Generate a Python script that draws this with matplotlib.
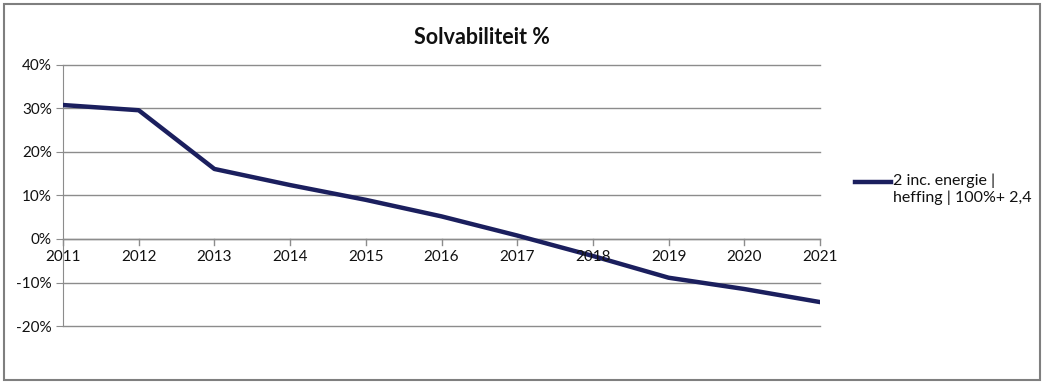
import matplotlib
matplotlib.use("Agg")
import matplotlib.pyplot as plt
from matplotlib.lines import Line2D
from matplotlib.patches import Rectangle
from matplotlib.ticker import FuncFormatter

years = [2011, 2012, 2013, 2014, 2015, 2016, 2017, 2018, 2019, 2020, 2021]
solvency = [30.8, 29.6, 16.1, 12.4, 9.0, 5.2, 0.8, -3.9, -8.9, -11.5, -14.5]
series_label = "2 inc. energie |\nheffing | 100%+ 2,4"
title = "Solvabiliteit %"

plt.rcParams["font.family"] = ["Lato", "DejaVu Sans"]

fig = plt.figure(figsize=(10.46, 3.85), dpi=100)
ax = fig.add_axes([63 / 1046, 1 - 326 / 385, (820 - 63) / 1046, (326 - 65) / 385])

line_color = "#1b1f5e"
grid_color = "#8c8c8c"
text_color = "#111111"

ax.plot(years, solvency, color=line_color, lw=3.2, solid_joinstyle="round", zorder=3)

ax.set_xlim(years[0], years[-1])
ax.set_ylim(-20, 40)
ax.set_yticks(range(-20, 41, 10))
ax.yaxis.set_major_formatter(FuncFormatter(lambda v, _: f"{int(v)}%"))
ax.grid(axis="y", color=grid_color, lw=1)
for gl in ax.get_ygridlines():
    gl.set_clip_on(False)
ax.set_axisbelow(True)

for side in ["top", "right", "bottom"]:
    ax.spines[side].set_visible(False)
ax.spines["left"].set_color(grid_color)

# x axis sits on the 0% line, labels just below it
ax.axhline(0, color=grid_color, lw=1, zorder=2)
ax.set_xticks(years)
ax.set_xticklabels([])
ax.tick_params(axis="x", length=0)
for yr in years:
    ax.plot([yr, yr], [0, -1.4], color=grid_color, lw=1, zorder=2, clip_on=False)
    ax.text(yr, -2.6, str(yr), ha="center", va="top", fontsize=11, color=text_color)

ax.tick_params(axis="y", length=5, color=grid_color, labelsize=11, labelcolor=text_color, pad=3)

fig.text(482 / 1046, 1 - 38 / 385, title, ha="center", va="center",
         fontsize=15.5, fontweight="bold", color=text_color)

# legend
fig.add_artist(Line2D([855 / 1046, 891 / 1046], [1 - 182 / 385, 1 - 182 / 385],
                      color=line_color, lw=3.2))
fig.text(893 / 1046, 1 - 173 / 385, series_label, ha="left", va="top",
         fontsize=11.5, color=text_color, linespacing=1.3)

# chart area border
fig.add_artist(Rectangle((4 / 1046, 1 - 380 / 385), (1040 - 4) / 1046, (380 - 4) / 385,
                         transform=fig.transFigure, fill=False, ec="#7f7f7f", lw=1.5))

fig.savefig("out.png", dpi=100)
